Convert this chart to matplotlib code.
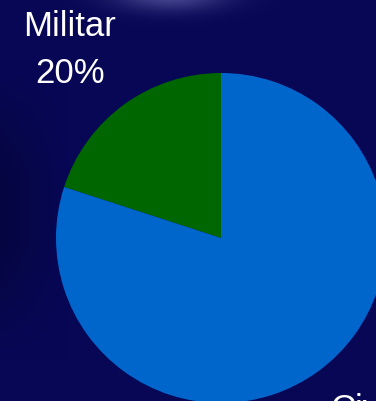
import numpy as np
import matplotlib.pyplot as plt

labels = ["Militar", "Civil"]
shares = [20, 80]
colors = ["#006600", "#0066CC"]

W, H = 376, 401
fig = plt.figure(figsize=(W / 100, H / 100), dpi=100)

# navy backdrop with a soft glow near the top
bg = fig.add_axes([0, 0, 1, 1], zorder=0)
yy, xx = np.mgrid[0:H, 0:W]
base = np.array([7, 7, 86]) / 255.0
img = np.ones((H, W, 3)) * base
shade = np.clip(1 - xx / 70.0, 0, 1) * 0.25 * np.clip((yy - 60) / 120.0, 0, 1) * np.clip((360 - yy) / 120.0, 0, 1)
img *= (1 - shade)[..., None]
glow = np.exp(-(((xx - 170) / 55.0) ** 2 + ((yy + 6) / 16.0) ** 2))
img += glow[..., None] * (np.array([150, 150, 215]) / 255.0 - base) * 0.45
bg.imshow(np.clip(img, 0, 1), aspect="auto", extent=[0, 1, 0, 1])
bg.axis("off")

ax = fig.add_axes([0, 0, 1, 1], zorder=1)
ax.patch.set_visible(False)
texts = [f"{l}\n{s}%" for l, s in zip(labels, shares)]
wedges, lbls = ax.pie(shares, labels=texts, colors=colors, startangle=90,
                      labeldistance=1.46, radius=1.0,
                      textprops=dict(color="white", fontsize=25,
                                     family="Liberation Sans", linespacing=1.55))

# swing the labels a little off the wedge bisector
nudge = [2.8, 0.0]
for w, t, d in zip(wedges, lbls, nudge):
    ang = np.deg2rad((w.theta1 + w.theta2) / 2 + d)
    t.set_position((1.46 * np.cos(ang), 1.46 * np.sin(ang)))
    t.set_horizontalalignment("center")
    t.set_verticalalignment("center")

cx, cy, r = 221, 238, 165
ax.set_xlim(-cx / r, (W - cx) / r)
ax.set_ylim(-(H - cy) / r, cy / r)
ax.set_aspect("auto")
ax.axis("off")

fig.savefig("out.png", dpi=100)
